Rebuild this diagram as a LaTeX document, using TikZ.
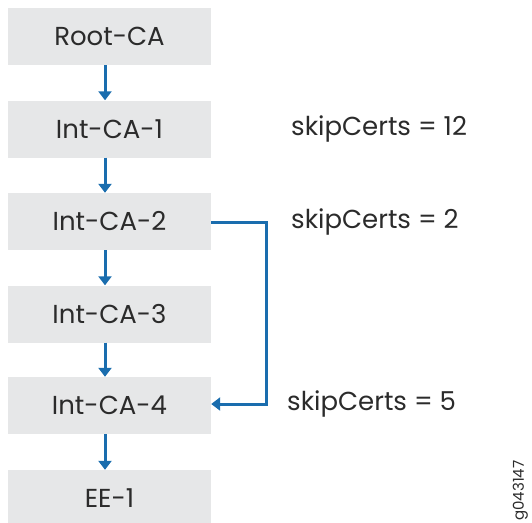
\documentclass[tikz,border=0pt]{standalone}
\usepackage{fontspec}
\setmainfont{Poppins}
\usetikzlibrary{arrows.meta}
\definecolor{boxgray}{HTML}{E6E7E8}
\definecolor{arrblue}{HTML}{1A6DAE}
\definecolor{txt}{HTML}{2B2B2B}
\tikzset{
  cabox/.style={fill=boxgray, draw=none, minimum width=203pt, minimum height=57pt, inner sep=0pt, font=\fontsize{26}{28}\selectfont, text=txt},
  lbl/.style={anchor=west, inner sep=0pt, font=\fontsize{26}{28}\selectfont, text=txt},
  conn/.style={draw=arrblue, line width=3pt, -{Triangle[width=13pt,length=9pt]}},
}
\begin{document}
\begin{tikzpicture}[x=1pt,y=-1pt]
\useasboundingbox (0,0) rectangle (532,522);
\begin{scope}
\clip (0,0) rectangle (532,522);
\node[cabox] (root) at (109.5,36.5) {Root-CA};
\node[cabox] (ca1) at (109.5,129) {Int-CA-1};
\node[cabox] (ca2) at (109.5,221.5) {Int-CA-2};
\node[cabox] (ca3) at (109.5,314) {Int-CA-3};
\node[cabox] (ca4) at (109.5,405.5) {Int-CA-4};
\node[cabox] (ee) at (109.5,498.5) {EE-1};
\end{scope}
\draw[conn] ([xshift=-4.5pt]root.south) -- ([xshift=-4.5pt]ca1.north);
\draw[conn] ([xshift=-4.5pt]ca1.south) -- ([xshift=-4.5pt]ca2.north);
\draw[conn] ([xshift=-4.5pt]ca2.south) -- ([xshift=-4.5pt]ca3.north);
\draw[conn] ([xshift=-4.5pt]ca3.south) -- ([xshift=-4.5pt]ca4.north);
\draw[conn] ([xshift=-4.5pt]ca4.south) -- ([xshift=-4.5pt]ee.north);
\coordinate (c1) at (266,222);
\coordinate (c2) at (266,404);
\draw[conn] ([yshift=-0.5pt]ca2.east) -- (c1) -- (c2) -- ([yshift=1.5pt]ca4.east);
\node[lbl] (l1) at (291,129) {skipCerts = 12};
\node[lbl] (l2) at (291,221.5) {skipCerts = 2};
\node[lbl] (l3) at (287,404) {skipCerts = 5};
\node[rotate=90, anchor=south west, inner sep=0pt, font=\fontsize{15}{16}\selectfont, text=txt] (id) at (528,521) {g043147};
\end{tikzpicture}
\end{document}
